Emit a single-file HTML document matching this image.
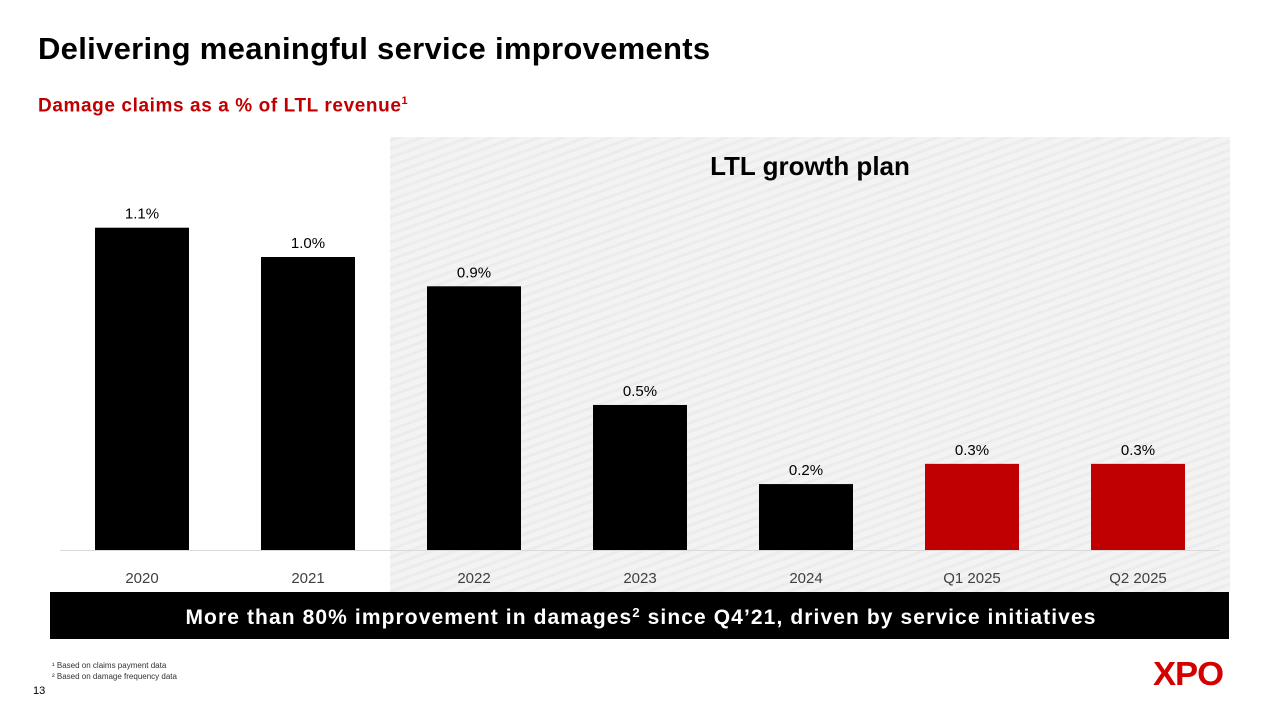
<!DOCTYPE html>
<html><head><meta charset="utf-8">
<style>
body{margin:0;width:1280px;height:720px;background:#fff;font-family:"Liberation Sans",sans-serif;overflow:hidden;position:relative}
.abs{position:absolute}
</style></head>
<body>
<div class="abs" style="left:38px;top:31px;font-size:31px;font-weight:bold;color:#000;letter-spacing:0.3px">Delivering meaningful service improvements</div>
<div class="abs" style="left:38px;top:95px;font-size:19px;font-weight:bold;color:#c00000;letter-spacing:0.6px">Damage claims as a % of LTL revenue<sup style="font-size:11px">1</sup></div>
<svg class="abs" style="left:0;top:0" width="1280" height="720">
<defs><pattern id="hatch" width="8" height="8" patternUnits="userSpaceOnUse" patternTransform="rotate(-20)"><rect width="8" height="8" fill="#f3f3f3"/><rect width="8" height="3" fill="#ececec"/></pattern></defs>
<rect x="390" y="137" width="840" height="455" fill="url(#hatch)"/>
<text x="810" y="175" text-anchor="middle" font-size="26" font-weight="bold" fill="#000">LTL growth plan</text>
<line x1="60" y1="550.5" x2="1220" y2="550.5" stroke="#d9d9d9" stroke-width="1"/>
<g id="bars"></g>
<rect x="50" y="592" width="1179" height="47" fill="#000"/>
<text x="641" y="624" text-anchor="middle" font-size="21" font-weight="bold" fill="#fff" letter-spacing="1.1">More than 80% improvement in damages<tspan font-size="13" dy="-7">2</tspan><tspan dy="7"> since Q4’21, driven by service initiatives</tspan></text>
</svg>
<div class="abs" style="left:52px;top:660px;font-size:8px;color:#333;line-height:11px"><div>¹ Based on claims payment data</div><div>² Based on damage frequency data</div></div>
<div class="abs" style="left:33px;top:685px;font-size:11px;color:#000">13</div>
<div class="abs" style="left:1153px;top:655px;font-size:33px;font-weight:900;color:#d40000;letter-spacing:-1px;transform:scaleX(1.05);transform-origin:left">XPO</div>
<script>
const categories=["2020","2021","2022","2023","2024","Q1 2025","Q2 2025"];
const values=[1.1,1.0,0.9,0.495,0.225,0.294,0.294];
const labels=["1.1%","1.0%","0.9%","0.5%","0.2%","0.3%","0.3%"];
const highlight=[false,false,false,false,false,true,true];
const NS="http://www.w3.org/2000/svg";
const g=document.getElementById("bars");
const baseY=550, pxPerUnit=293, x0=95, step=166, bw=94;
function xs(i){return x0+i*step;}
function ys(v){return baseY-v*pxPerUnit;}
categories.forEach((c,i)=>{
 const r=document.createElementNS(NS,"rect");
 r.setAttribute("x",xs(i));r.setAttribute("y",ys(values[i]));
 r.setAttribute("width",bw);r.setAttribute("height",baseY-ys(values[i]));
 r.setAttribute("fill",highlight[i]?"#c00000":"#000");
 
 
 g.appendChild(r);
 const t=document.createElementNS(NS,"text");
 t.setAttribute("x",xs(i)+bw/2);t.setAttribute("y",ys(values[i])-9);
 t.setAttribute("text-anchor","middle");t.setAttribute("font-size","15");t.setAttribute("fill","#000");
 t.textContent=labels[i];
 
 
 g.appendChild(t);
 const l=document.createElementNS(NS,"text");
 l.setAttribute("x",xs(i)+bw/2);l.setAttribute("y",583);
 l.setAttribute("text-anchor","middle");l.setAttribute("font-size","15");l.setAttribute("fill","#404040");
 l.textContent=c;
 
 
 g.appendChild(l);
});
</script>
</body></html>
